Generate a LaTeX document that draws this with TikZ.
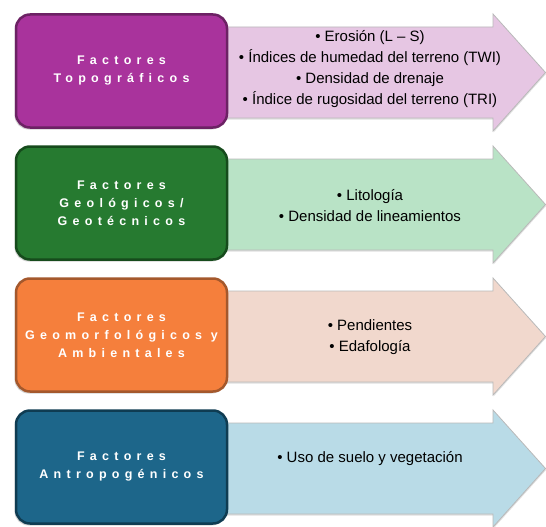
\documentclass[tikz,border=0pt]{standalone}
\usepackage{fontspec}
\setmainfont{Liberation Sans}
\newfontfamily\trackfont[LetterSpace=42]{Liberation Sans Bold}
\usetikzlibrary{shadows}
\definecolor{topo}{HTML}{A9339C}
\definecolor{topoedge}{HTML}{6C2264}
\definecolor{topolight}{HTML}{E6C6E3}
\definecolor{geo}{HTML}{267A30}
\definecolor{geoedge}{HTML}{164B1C}
\definecolor{geolight}{HTML}{B9E3C6}
\definecolor{morf}{HTML}{F57F3C}
\definecolor{morfedge}{HTML}{A4582C}
\definecolor{morflight}{HTML}{F1D8CD}
\definecolor{antro}{HTML}{1D668A}
\definecolor{antroedge}{HTML}{0F3C52}
\definecolor{antrolight}{HTML}{B9DBE7}
\begin{document}
\begin{tikzpicture}[x=1pt,y=-1pt,
  fac/.style={draw,rounded corners=14pt,line width=2.5pt,minimum width=211pt,minimum height=113pt,align=center,text=white,inner sep=2pt,
    font=\trackfont\fontsize{12.5}{18}\selectfont,drop shadow={shadow xshift=-1.5pt,shadow yshift=-2pt,opacity=0.35}},
  lst/.style={anchor=north,align=center,inner sep=0pt,font=\fontsize{15}{21}\selectfont},
  arr/.style={draw=gray!55,line width=0.8pt,drop shadow={shadow xshift=0.5pt,shadow yshift=-1.5pt,opacity=0.25}}]
  \useasboundingbox (0,0) rectangle (546,527);
  % arrows
  \draw[arr,fill=topolight] (220,27) -- (493,27) -- (493,14) -- (545.5,72.5) -- (493,131) -- (493,118) -- (220,118) -- cycle;
  \draw[arr,fill=geolight] (220,159) -- (493,159) -- (493,146) -- (545.5,204.5) -- (493,263) -- (493,250) -- (220,250) -- cycle;
  \draw[arr,fill=morflight] (220,291) -- (493,291) -- (493,278) -- (545.5,336.5) -- (493,395) -- (493,382) -- (220,382) -- cycle;
  \draw[arr,fill=antrolight] (220,423) -- (493,423) -- (493,410) -- (545.5,468.5) -- (493,527) -- (493,514) -- (220,514) -- cycle;
  % factor boxes
  \node[fac,fill=topo,draw=topoedge] (f1) at (121.5,71){Factores\\Topográficos};
  \node[fac,fill=geo,draw=geoedge] (f2) at (121.5,203){Factores\\Geológicos/\\Geotécnicos};
  \node[fac,fill=morf,draw=morfedge] (f3) at (121.5,335){Factores\\Geomorfológicos y\\Ambientales};
  \node[fac,fill=antro,draw=antroedge] (f4) at (121.5,467){Factores\\Antropogénicos};
  % lists
  \node[lst] (l1) at (370,30){• Erosión (L – S)\\• Índices de humedad del terreno (TWI)\\• Densidad de drenaje\\• Índice de rugosidad del terreno (TRI)};
  \node[lst] (l2) at (370,189){• Litología\\• Densidad de lineamientos};
  \node[lst] (l3) at (370,319){• Pendientes\\• Edafología};
  \node[lst] (l4) at (370,451){• Uso de suelo y vegetación};
\end{tikzpicture}
\end{document}
